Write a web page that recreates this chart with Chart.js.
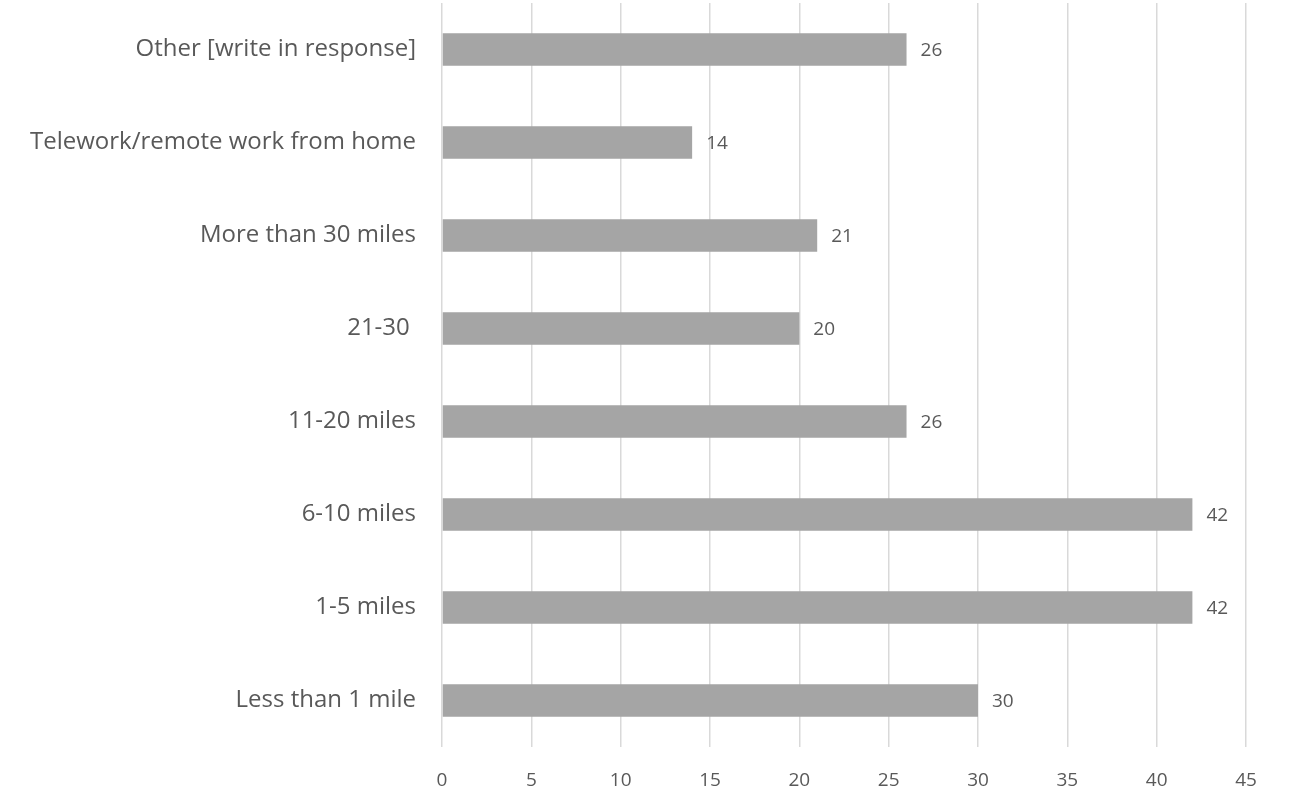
<!DOCTYPE html>
<html>
<head>
<meta charset="utf-8">
<script src="https://cdn.jsdelivr.net/npm/chart.js@4"></script>
<style>
  html, body { margin: 0; padding: 0; background: #fff; }
  #wrap { width: 1289px; height: 791px; position: relative; }
</style>
</head>
<body>
<div id="wrap"><canvas id="chart"></canvas></div>
<script>
const categories = [
    'Other [write in response]',
    'Telework/remote work from home',
    'More than 30 miles',
    '21-30 ',
    '11-20 miles',
    '6-10 miles',
    '1-5 miles',
    'Less than 1 mile'
];
const counts = [26, 14, 21, 20, 26, 42, 42, 30];
const xMax = 45;
const xStep = 5;

const textColor = '#595959';
const fontFamily = "'Open Sans', 'Liberation Sans', sans-serif";

// value labels at the end of each bar
const barValueLabels = {
    id: 'barValueLabels',
    afterDatasetsDraw(chart) {
        const ctx = chart.ctx;
        const meta = chart.getDatasetMeta(0);
        ctx.save();
        ctx.fillStyle = textColor;
        ctx.font = '19px ' + fontFamily;
        ctx.textAlign = 'left';
        ctx.textBaseline = 'middle';
        meta.data.forEach((bar, i) => {
            ctx.fillText(String(counts[i]), bar.x + 14, bar.y + 1);
        });
        ctx.restore();
    }
};

new Chart(document.getElementById('chart'), {
    type: 'bar',
    data: {
        labels: categories,
        datasets: [{
            data: counts,
            backgroundColor: '#a5a5a5',
            borderWidth: 0,
            categoryPercentage: 1,
            barPercentage: 0.35
        }]
    },
    options: {
        indexAxis: 'y',
        responsive: true,
        maintainAspectRatio: false,
        animation: false,
        layout: { padding: { top: 3, right: 43, left: 0, bottom: 0 }, autoPadding: false },
        plugins: {
            legend: { display: false },
            tooltip: { enabled: false }
        },
        scales: {
            x: {
                min: 0,
                max: xMax,
                ticks: {
                    stepSize: xStep,
                    color: textColor,
                    font: { size: 19, family: fontFamily },
                    padding: 22
                },
                grid: { color: '#d9d9d9', lineWidth: 1.5, tickLength: 0 },
                border: { display: false },
                afterFit(scale) {
                    scale.height = 44;
                    scale.paddingLeft = 0;
                    scale.paddingRight = 0;
                }
            },
            y: {
                ticks: {
                    color: textColor,
                    font: { size: 24, family: fontFamily },
                    padding: 26
                },
                grid: { display: false, tickLength: 0 },
                border: { display: false },
                afterFit(scale) {
                    scale.width = 442;
                    scale.paddingTop = 0;
                    scale.paddingBottom = 0;
                }
            }
        }
    },
    plugins: [barValueLabels]
});
</script>
</body>
</html>
